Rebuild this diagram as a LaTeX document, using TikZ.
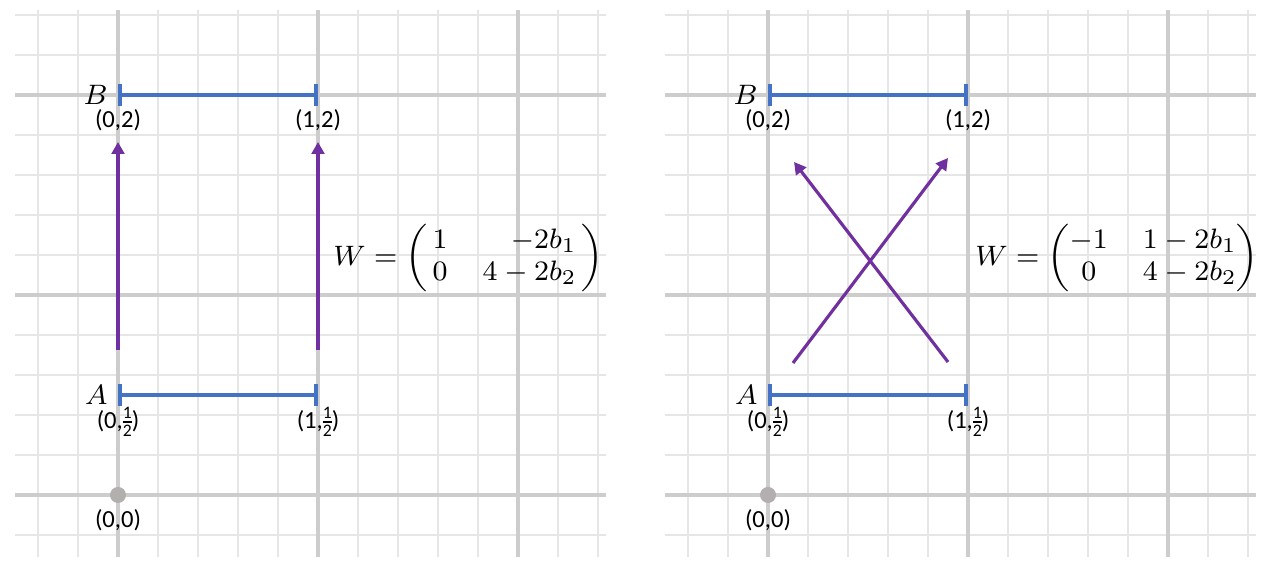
\documentclass[tikz,border=0pt]{standalone}
\usepackage{amsmath}
\usepackage{fontspec}
\setmainfont{Carlito}
\usetikzlibrary{arrows.meta,positioning}
\definecolor{segblue}{HTML}{4472C4}
\definecolor{vecpurple}{HTML}{7030A0}
\definecolor{gridminor}{HTML}{E6E6E6}
\definecolor{gridmajor}{HTML}{CDCDCD}
\definecolor{origingray}{HTML}{B3AFAF}
\newcommand{\halffrac}{{\nulldelimiterspace=0pt$\frac{\text{1}}{\text{2}}$}}
\begin{document}
\begin{tikzpicture}[
    minorline/.style={gridminor, line width=0.6pt},
    majorline/.style={gridmajor, line width=0.9pt},
    seg/.style={segblue, line width=1.4pt, {Bar[width=6pt,line width=1.2pt]}-{Bar[width=6pt,line width=1.2pt]}},
    vec/.style={vecpurple, line width=0.9pt, -{Triangle[length=3.4pt,width=3.6pt]}},
    ptlbl/.style={font=\fontsize{7}{8}\selectfont, inner sep=0.5pt},
    namelbl/.style={font=\fontsize{8}{9}\selectfont, inner sep=0.5pt}]
    \useasboundingbox (0,0) rectangle (12.65,5.67);
    \foreach \ox/\nm in {1.18/L, 7.68/R} {
        \begin{scope}[shift={(\ox,0.72)}]
            % grid, unit lines on top
            \foreach \g in {-0.8,-0.4,...,4.81}
                \draw[minorline] (\g,-0.62) -- (\g,4.85);
            \foreach \g in {-0.4,0,...,4.81}
                \draw[minorline] (-1.03,\g) -- (4.88,\g);
            \foreach \g in {0,2,4} {
                \draw[majorline] (\g,-0.62) -- (\g,4.85);
                \draw[majorline] (-1.03,\g) -- (4.88,\g);
            }
            \coordinate (O\nm) at (0,0);
            \coordinate (A0\nm) at (0,1);
            \coordinate (A1\nm) at (2,1);
            \coordinate (B0\nm) at (0,4);
            \coordinate (B1\nm) at (2,4);
            \draw[seg] (A0\nm) -- (A1\nm);
            \draw[seg] (B0\nm) -- (B1\nm);
            \fill[origingray] (O\nm) circle (0.08);
            \node[namelbl, left=0.08 of A0\nm] (nA\nm) {$A$};
            \node[namelbl, left=0.08 of B0\nm] (nB\nm) {$B$};
            \node[ptlbl, below=0.12 of B0\nm] (lB0\nm) {(0,2)};
            \node[ptlbl, below=0.12 of B1\nm] (lB1\nm) {(1,2)};
            \node[ptlbl, below=0.1 of A0\nm] (lA0\nm) {(0,\halffrac)};
            \node[ptlbl, below=0.1 of A1\nm] (lA1\nm) {(1,\halffrac)};
            \node[ptlbl, below=0.12 of O\nm] (lO\nm) {(0,0)};
        \end{scope}
    }
    % left: W keeps the x order
    \begin{scope}[shift={(1.18,0.72)}]
        \coordinate (s1) at (0,1.45);
        \coordinate (t1) at (0,3.53);
        \coordinate (s2) at (2,1.45);
        \coordinate (t2) at (2,3.53);
        \draw[vec] (s1) -- (t1);
        \draw[vec] (s2) -- (t2);
        \node[namelbl, anchor=west] (matL) at (2.13,2.37)
            {$W = \left(\begin{array}{@{\,}lr@{\,}} 1 & -2b_1 \\ 0 & 4-2b_2 \end{array}\right)$};
    \end{scope}
    % right: W flips the x order
    \begin{scope}[shift={(7.68,0.72)}]
        \coordinate (s3) at (0.25,1.32);
        \coordinate (t3) at (1.8,3.37);
        \coordinate (s4) at (1.8,1.33);
        \coordinate (t4) at (0.26,3.33);
        \draw[vec] (s3) -- (t3);
        \draw[vec] (s4) -- (t4);
        \node[namelbl, anchor=west] (matR) at (2.05,2.37)
            {$W = \begin{pmatrix} -1 & 1-2b_1 \\ 0 & 4-2b_2 \end{pmatrix}$};
    \end{scope}
\end{tikzpicture}
\end{document}
